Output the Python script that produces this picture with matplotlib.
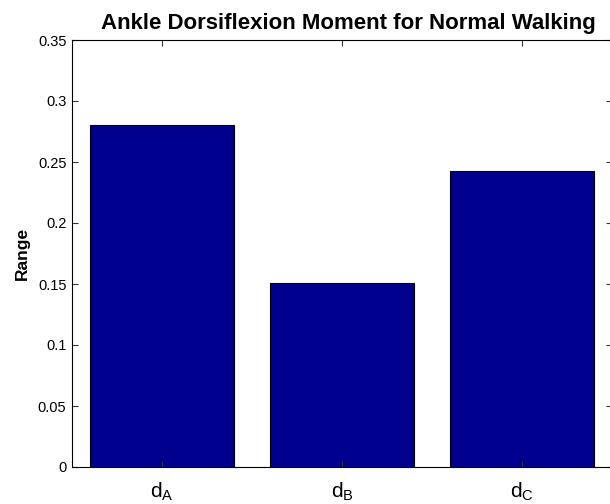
import matplotlib
matplotlib.use('Agg')
import matplotlib.pyplot as plt

plt.rcParams['font.family'] = ['Liberation Sans', 'DejaVu Sans']
plt.rcParams['mathtext.fontset'] = 'custom'
plt.rcParams['mathtext.rm'] = 'Liberation Sans'
plt.rcParams['mathtext.it'] = 'Liberation Sans'

# Data
labels = ['d$_\\mathrm{A}$', 'd$_\\mathrm{B}$', 'd$_\\mathrm{C}$']
positions = [1, 2, 3]
values = [0.28, 0.151, 0.243]
yticks = [0, 0.05, 0.1, 0.15, 0.2, 0.25, 0.3, 0.35]
ytick_labels = ['0', '0.05', '0.1', '0.15', '0.2', '0.25', '0.3', '0.35']

W, H = 610, 504
fig = plt.figure(figsize=(W / 100, H / 100), dpi=100)
# axes run slightly past the right edge, as in the cropped original
ax = fig.add_axes([72 / W, (H - 467) / H, 540 / W, 427 / H])

ax.bar(positions, values, width=0.8, color='#00008f', edgecolor='black', linewidth=0.8)

ax.set_xlim(0.5, 3.5)
ax.set_ylim(0, 0.35)
ax.set_xticks(positions)
ax.set_xticklabels(labels, fontsize=15)
ax.set_yticks(yticks)
ax.set_yticklabels(ytick_labels, fontsize=10.5)

ax.tick_params(axis='both', direction='in', length=4, width=0.8,
               top=True, right=True, color='#333333')
ax.tick_params(axis='x', pad=10)
ax.tick_params(axis='y', pad=4)

for s in ax.spines.values():
    s.set_linewidth(0.8)

ax.set_ylabel('Range', fontsize=12.5, fontweight='bold', labelpad=6)
ax.set_title('Ankle Dorsiflexion Moment for Normal Walking', fontsize=16,
             fontweight='bold', pad=8, x=0.512)

fig.savefig('out.png', dpi=100)
